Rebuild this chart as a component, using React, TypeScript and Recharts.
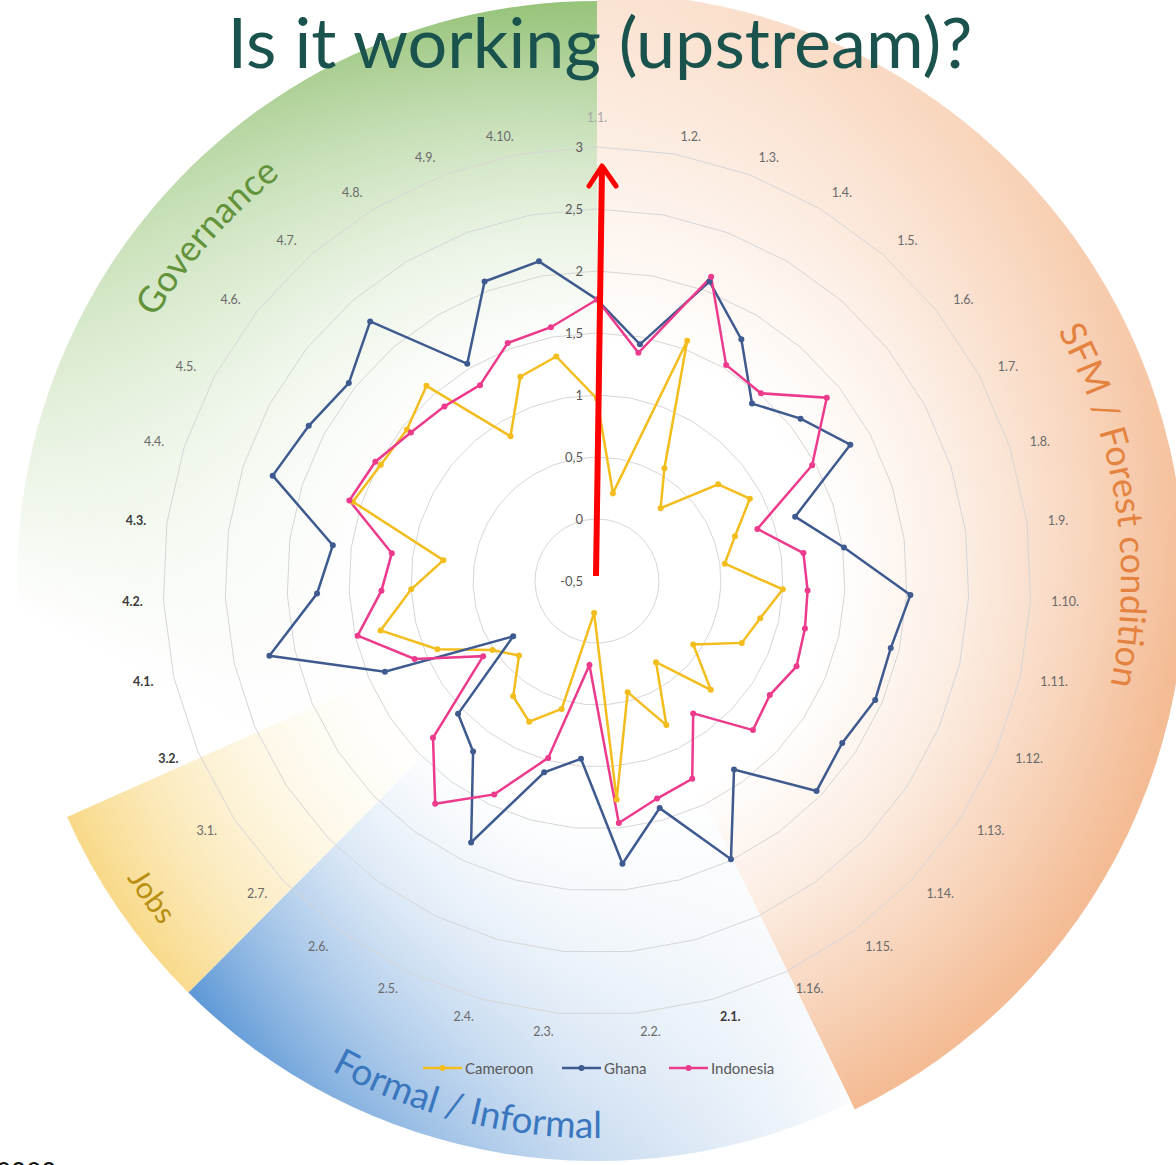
import React from 'react';
import { RadarChart, Radar, PolarGrid, PolarAngleAxis, PolarRadiusAxis } from 'recharts';

// ---------- data ----------
const categories = [
  '1.1.', '1.2.', '1.3.', '1.4.', '1.5.', '1.6.', '1.7.', '1.8.', '1.9.', '1.10.', '1.11.', '1.12.', '1.13.', '1.14.', '1.15.', '1.16.',
  '2.1.', '2.2.', '2.3.', '2.4.', '2.5.', '2.6.', '2.7.',
  '3.1.', '3.2.',
  '4.1.', '4.2.', '4.3.', '4.4.', '4.5.', '4.6.', '4.7.', '4.8.', '4.9.', '4.10.',
];
const cameroon = [
  0.97, 0.22, 1.57, 0.56, 0.28, 0.75, 0.90, 0.67, 0.54, 1.00, 0.85, 0.77, 0.43, 0.77, 0.31, 0.79,
  0.43, 1.27, -0.24, 0.57, 0.76, 0.65, 0.37,
  0.51, 0.90,
  1.29, 1.00, 0.75, 1.57, 1.48, 1.46, 1.59, 0.86, 1.26, 1.34,
];
const ghana = [
  1.77, 1.44, 2.08, 1.77, 1.40, 1.60, 1.82, 1.18, 1.51, 2.03, 1.93, 1.94, 1.87, 1.95, 1.38, 1.99,
  1.40, 1.79, 0.94, 1.10, 1.84, 1.20, 1.05,
  0.31, 1.36,
  2.21, 1.76, 1.65, 2.25, 2.14, 2.06, 2.28, 1.54, 2.08, 2.12,
];
const indonesia = [
  1.77, 1.37, 2.12, 1.53, 1.51, 1.87, 1.47, 0.86, 1.18, 1.20, 1.22, 1.25, 1.17, 1.24, 0.82, 1.27,
  1.32, 1.46, 0.18, 0.98, 1.41, 1.72, 1.33,
  0.60, 1.10,
  1.48, 1.24, 1.17, 1.60, 1.53, 1.42, 1.37, 1.34, 1.55, 1.58,
];
const seriesNames = ['Cameroon', 'Ghana', 'Indonesia'];
const seriesValues = [cameroon, ghana, indonesia];
const seriesColors = ['#F3BD1E', '#3E5A8F', '#EC3A8C'];
const radiusDomain = [-0.5, 3];
const radiusTicks = [-0.5, 0, 0.5, 1, 1.5, 2, 2.5, 3];
const strongLabels = ['2.1.', '3.2.', '4.1.', '4.2.', '4.3.'];
const faintLabels = ['1.1.'];
const titleText = 'Is it working (upstream)?';
const sectionNames = ['SFM / Forest condition', 'Formal / Informal', 'Jobs', 'Governance'];

const data = categories.map((c, i) => {
  const row: any = { cat: c };
  seriesNames.forEach((n, k) => { row[n] = seriesValues[k][i]; });
  return row;
});

// ---------- geometry ----------
const W = 1176, H = 1165, CX = 597, CY = 581, OUTER = 434, RW = 580;
const FONT = 'Lato, "Open Sans", sans-serif';
const rad = (d: number) => (d * Math.PI) / 180;
const pt = (r: number, deg: number) => [CX + r * Math.sin(rad(deg)), CY - r * Math.cos(rad(deg))];
const wedge = (a0: number, a1: number, r: number) => {
  const [x0, y0] = pt(r, a0);
  const [x1, y1] = pt(r, a1);
  const large = a1 - a0 > 180 ? 1 : 0;
  return `M${CX},${CY} L${x0},${y0} A${r},${r} 0 ${large} 1 ${x1},${y1} Z`;
};
const arc = (a0: number, a1: number, r: number) => {
  const [x0, y0] = pt(r, a0);
  const [x1, y1] = pt(r, a1);
  const sweep = a1 > a0 ? 1 : 0;
  const large = Math.abs(a1 - a0) > 180 ? 1 : 0;
  return `M${x0},${y0} A${r},${r} 0 ${large} ${sweep} ${x1},${y1}`;
};

const AngleTick = (props: any) => {
  const { payload } = props;
  const cx = typeof props.cx === 'number' ? props.cx : CX;
  const cy = typeof props.cy === 'number' ? props.cy : CY;
  const label = String(payload.value);
  const a = rad(payload.coordinate);
  const dx = Math.cos(a);
  const dy = -Math.sin(a);
  const digits = label.replace(/\./g, '').length;
  const dots = label.length - digits;
  const w = digits * 7 + dots * 3;
  const R0 = OUTER + 18;
  const onAxis = Math.abs(dx) < 0.01;
  const x = cx + R0 * dx + (onAxis ? 0 : Math.sign(dx) * (w / 2 + 3));
  const y = cy + R0 * dy + (onAxis ? Math.sign(dy) * 12 : 0);
  const strong = strongLabels.includes(label);
  const faint = faintLabels.includes(label);
  return (
    <text
      x={x}
      y={y}
      textAnchor="middle"
      dominantBaseline="central"
      fontFamily={FONT}
      fontSize={12.5}
      fontWeight={strong ? 700 : 400}
      fill={strong ? '#3A3A3A' : faint ? '#A8A8A8' : '#6A6A6A'}
    >
      {label}
    </text>
  );
};

const RadiusTick = (props: any) => {
  const { x, y, payload } = props;
  return (
    <text x={x - 14} y={y} textAnchor="end" dominantBaseline="central" fontFamily={FONT} fontSize={13} fill="#595959">
      {String(payload.value).replace('.', ',')}
    </text>
  );
};

const makeDot = (color: string) => (p: any) => (
  <circle key={`d-${p.index}-${color}`} cx={p.cx} cy={p.cy} r={3} fill={color} stroke="none" />
);

const legendX = [423, 562, 669];

export default function App() {
  return (
    <div style={{ position: 'fixed', left: 0, top: 0, width: W, height: H, overflow: 'hidden', background: '#fff' }}>
      {/* background sectors */}
      <svg width={W} height={H} style={{ position: 'absolute', left: 0, top: 0 }}>
        <defs>
          <linearGradient id="gGreen" gradientUnits="userSpaceOnUse" x1="500" y1="0" x2="150" y2="680">
            <stop offset="0" stopColor="#98C47B" />
            <stop offset="0.55" stopColor="#CFE4C0" />
            <stop offset="1" stopColor="#FFFFFF" />
          </linearGradient>
          <linearGradient id="gOrange" gradientUnits="userSpaceOnUse" x1="620" y1="0" x2="1120" y2="700">
            <stop offset="0" stopColor="#FBE3D2" />
            <stop offset="1" stopColor="#F4BC95" />
          </linearGradient>
          <linearGradient id="gBlue" gradientUnits="userSpaceOnUse" x1="190" y1="1000" x2="870" y2="960">
            <stop offset="0" stopColor="#5C97D6" />
            <stop offset="0.55" stopColor="#C6DAF0" />
            <stop offset="1" stopColor="#FFFFFF" />
          </linearGradient>
          <linearGradient id="gYellow" gradientUnits="userSpaceOnUse" x1="60" y1="900" x2="400" y2="720">
            <stop offset="0" stopColor="#F8D67F" />
            <stop offset="1" stopColor="#FDF1CF" />
          </linearGradient>
          <radialGradient id="gFade" gradientUnits="userSpaceOnUse" cx={CX} cy={CY} r={RW}>
            <stop offset="0" stopColor="#fff" stopOpacity="1" />
            <stop offset="0.4" stopColor="#fff" stopOpacity="1" />
            <stop offset="0.62" stopColor="#fff" stopOpacity="0.72" />
            <stop offset="0.85" stopColor="#fff" stopOpacity="0.3" />
            <stop offset="1" stopColor="#fff" stopOpacity="0" />
          </radialGradient>
        </defs>
        <path d={wedge(246, 360, RW)} fill="url(#gGreen)" />
        <path d={wedge(0, 154, RW + 8)} fill="url(#gOrange)" />
        <path d={wedge(154, 224.8, RW)} fill="url(#gBlue)" />
        <path d={wedge(224.8, 246, RW)} fill="url(#gYellow)" />
        <circle cx={CX} cy={CY} r={RW + 10} fill="url(#gFade)" />
      </svg>

      {/* radar chart */}
      <div style={{ position: 'absolute', left: 0, top: 0 }}>
        <RadarChart
          width={W}
          height={H}
          data={data}
          cx={CX}
          cy={CY}
          outerRadius={OUTER}
          margin={{ top: 0, right: 0, bottom: 0, left: 0 }}
        >
          <PolarGrid gridType="polygon" radialLines={false} stroke="#D6D6D6" strokeWidth={1} />
          <PolarAngleAxis dataKey="cat" tick={AngleTick} axisLine={false} tickLine={false} />
          <PolarRadiusAxis
            angle={90}
            type="number"
            domain={radiusDomain}
            ticks={radiusTicks as any}
            tickCount={radiusTicks.length}
            axisLine={false}
            tickLine={false}
            tick={RadiusTick}
          />
          {seriesNames.map((n, k) => (
            <Radar
              key={n}
              name={n}
              dataKey={n}
              stroke={seriesColors[k]}
              strokeWidth={2.5}
              fill="none"
              fillOpacity={0}
              dot={makeDot(seriesColors[k])}
              isAnimationActive={false}
            />
          ))}
        </RadarChart>
      </div>

      {/* overlay texts */}
      <svg width={W} height={H} style={{ position: 'absolute', left: 0, top: 0, pointerEvents: 'none' }}>
        <defs>
          <path id="pSFM" d={arc(52, 111, 524)} />
          <path id="pFormal" d={arc(225, 163, 557)} />
          <path id="pJobs" d={arc(250, 219.4, 556)} />
          <path id="pGov" d={arc(281.4, 341.4, 514)} />
        </defs>
        <text x={600} y={68} textAnchor="middle" fontFamily={FONT} fontSize={70} fill="#1A524D" textLength={745} lengthAdjust="spacingAndGlyphs">
          {titleText}
        </text>
        <text fontFamily={FONT} fontSize={36} fill="#E4823F">
          <textPath href="#pSFM" startOffset="50%" textAnchor="middle">{sectionNames[0]}</textPath>
        </text>
        <text fontFamily={FONT} fontSize={37} fill="#3A77BE">
          <textPath href="#pFormal" startOffset="50%" textAnchor="middle">{sectionNames[1]}</textPath>
        </text>
        <text fontFamily={FONT} fontSize={30} fill="#B88F10">
          <textPath href="#pJobs" startOffset="50%" textAnchor="middle">{sectionNames[2]}</textPath>
        </text>
        <text fontFamily={FONT} fontSize={36} fill="#62933A">
          <textPath href="#pGov" startOffset="50%" textAnchor="middle">{sectionNames[3]}</textPath>
        </text>

        {/* legend */}
        {seriesNames.map((n, k) => (
          <g key={n}>
            <line x1={legendX[k]} y1={1068} x2={legendX[k] + 39} y2={1068} stroke={seriesColors[k]} strokeWidth={2.5} />
            <circle cx={legendX[k] + 19.5} cy={1068} r={3} fill={seriesColors[k]} />
            <text x={legendX[k] + 42} y={1068} dominantBaseline="central" fontFamily={FONT} fontSize={15} fill="#595959">
              {n}
            </text>
          </g>
        ))}

        {/* red arrow annotation */}
        <line x1={596} y1={576} x2={602} y2={168} stroke="#FF0000" strokeWidth={6} />
        <polyline points="589,186 602,166 616,186" fill="none" stroke="#FF0000" strokeWidth={5} strokeLinecap="round" strokeLinejoin="round" />

        <text x={-4} y={1182} fontFamily={FONT} fontSize={26} fill="#111">2020</text>
      </svg>
    </div>
  );
}
